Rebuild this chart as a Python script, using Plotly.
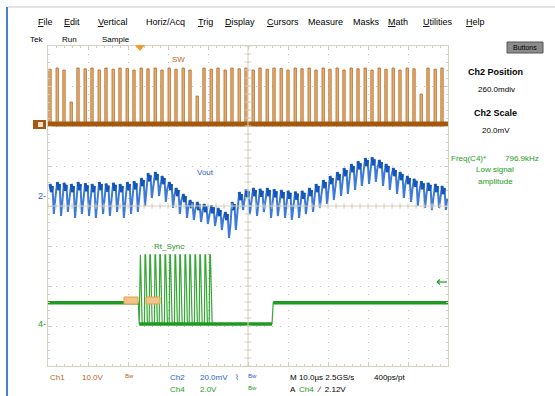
import plotly.graph_objects as go

# oscilloscope screen: x in microseconds (10 us/div), y in divisions
cycle_t = [0.5, 2.3, 4.0, 5.8, 7.5, 9.3, 11.0, 12.8, 14.5, 16.3, 18.0, 19.8, 21.5, 23.3,
           25.0, 26.8, 28.5, 30.3, 32.0, 33.8, 35.5, 37.3, 39.0, 40.8, 42.5, 44.3, 46.0,
           47.8, 49.5, 51.3, 53.0, 54.8, 56.5, 58.3, 60.0, 61.8, 63.5, 65.3, 67.0, 68.8,
           70.5, 72.3, 74.0, 75.8, 77.5, 79.3, 81.0, 82.8, 84.5, 86.3, 88.0, 89.8, 91.5,
           93.3, 95.0, 96.8, 98.5]

# SW (Ch1) pulse tops, divisions
sw_base = 2.05
sw_top = [3.42, 3.45, 3.40, 2.60, 3.45, 3.43, 3.45, 3.40, 3.45, 3.42, 3.45, 3.44, 3.40, 3.45,
          3.43, 3.45, 3.40, 3.45, 3.42, 3.45, 3.40, 2.75, 3.45, 3.42, 3.45, 3.40, 3.45, 3.43,
          3.45, 3.40, 3.45, 3.42, 3.45, 3.44, 3.40, 3.45, 3.43, 3.45, 3.40, 3.45, 3.42, 3.45,
          3.40, 3.45, 3.43, 3.45, 3.40, 3.45, 3.42, 3.45, 3.40, 3.45, 3.43, 2.80, 3.45, 3.42,
          3.45]

# Vout (Ch2) ripple peaks / troughs per switching cycle, divisions
vout_peak = [0.55, 0.60, 0.58, 0.55, 0.60, 0.57, 0.55, 0.60, 0.56, 0.58, 0.55, 0.60, 0.62,
             0.70, 0.82, 0.85, 0.75, 0.60, 0.45, 0.30, 0.15, 0.10, 0.05, 0.02, -0.05, -0.15,
             0.10, 0.35, 0.42, 0.45, 0.43, 0.45, 0.42, 0.40, 0.38, 0.36, 0.38, 0.45, 0.55,
             0.65, 0.75, 0.85, 0.95, 1.05, 1.12, 1.20, 1.22, 1.15, 1.05, 0.95, 0.85, 0.75,
             0.68, 0.62, 0.58, 0.55, 0.50]
vout_trough = [-0.20, -0.25, -0.15, -0.30, -0.20, -0.25, -0.30, -0.20, -0.25, -0.15, -0.30,
               -0.20, -0.15, 0.00, 0.20, 0.25, 0.10, -0.05, -0.20, -0.30, -0.35, -0.40, -0.45,
               -0.50, -0.60, -0.80, -0.60, -0.10, -0.20, -0.25, -0.15, -0.30, -0.25, -0.30,
               -0.35, -0.30, -0.20, -0.15, -0.05, 0.05, 0.15, 0.25, 0.30, 0.40, 0.50, 0.55,
               0.60, 0.50, 0.40, 0.30, 0.20, 0.10, 0.00, -0.05, -0.10, -0.05, -0.10]

# Rt_Sync (Ch4)
sync_base = -2.42
sync_low = -2.95
sync_high = -1.22
sync_pulse_t = [22.8, 24.1, 25.3, 26.6, 27.8, 29.1, 30.3, 31.6, 32.8, 34.1, 35.3, 36.6,
                37.8, 39.1, 40.3]
sync_edges_t = [22.6, 41.2, 56.0]   # leave baseline, end of burst, back to baseline

menu_items = ["File", "Edit", "Vertical", "Horiz/Acq", "Trig", "Display", "Cursors",
              "Measure", "Masks", "Math", "Utilities", "Help"]
menu_x = [36, 62, 96, 144, 196, 223, 265, 306, 351, 386, 421, 464]

ORANGE = "#B8661C"
ORANGE_L = "#E4B27C"
BLUE = "#1F62C6"
GREEN = "#1E9A22"
FONT = "Liberation Sans"

L, R, T, B = 48, 448, 46, 366


def px(x, y):
    return (x - L) / (R - L), (B - y) / (B - T)


fig = go.Figure()

# graticule centre lines with minor ticks
for v in range(0, 101, 2):
    fig.add_shape(type="line", x0=v, x1=v, y0=-0.07, y1=0.07, line=dict(color="#CFCBB8", width=1))
for v in range(-20, 21):
    fig.add_shape(type="line", y0=v / 5, y1=v / 5, x0=49.2, x1=50.8, line=dict(color="#CFCBB8", width=1))
fig.add_shape(type="line", x0=50, x1=50, y0=-4, y1=4, line=dict(color="#D6D2BE", width=1))
fig.add_shape(type="line", x0=0, x1=100, y0=0, y1=0, line=dict(color="#D6D2BE", width=1))

# SW
fig.add_trace(go.Bar(x=cycle_t, y=[t - sw_base for t in sw_top], base=sw_base, width=0.6,
                     marker=dict(color=ORANGE_L, line=dict(color=ORANGE, width=0.8))))
fig.add_trace(go.Scatter(x=[0, 100], y=[sw_base, sw_base], mode="lines",
                         line=dict(color="#A4570F", width=5)))

# Vout
T_sw = 1.75
vx, vy = [], []
for t0, pk, tr in zip(cycle_t, vout_peak, vout_trough):
    vx += [t0, t0 + 0.2 * T_sw, t0 + 0.35 * T_sw, t0 + 0.55 * T_sw, t0 + 0.75 * T_sw]
    vy += [pk, pk - 0.2, pk - 0.05, tr, (pk + tr) / 2]
fig.add_trace(go.Scatter(x=vx, y=vy, mode="lines", line=dict(color="#3E7BD6", width=2)))
fig.add_trace(go.Scatter(x=vx, y=[v if i % 5 < 3 else None for i, v in enumerate(vy)],
                         mode="lines", connectgaps=False, line=dict(color="#1656B8", width=3)))

# Rt_Sync
sx = [0, sync_edges_t[0]]
sy = [sync_base, sync_base]
for t0 in sync_pulse_t:
    sx += [t0, t0 + 0.15, t0 + 0.3, t0 + 0.75]
    sy += [sync_low, sync_high, sync_high, sync_low]
sx += [sync_edges_t[1], sync_edges_t[2], sync_edges_t[2] + 0.3, 100]
sy += [sync_low, sync_low, sync_base, sync_base]
fig.add_trace(go.Scatter(x=sx, y=sy, mode="lines", line=dict(color="#34A834", width=1.2)))
fig.add_trace(go.Scatter(x=[0, sync_edges_t[0]], y=[sync_base] * 2, mode="lines",
                         line=dict(color=GREEN, width=3.5)))
fig.add_trace(go.Scatter(x=[sync_pulse_t[0], sync_edges_t[2]], y=[sync_low] * 2, mode="lines",
                         line=dict(color=GREEN, width=3.5)))
fig.add_trace(go.Scatter(x=[sync_edges_t[2] + 0.3, 100], y=[sync_base] * 2, mode="lines",
                         line=dict(color=GREEN, width=3.5)))

ann = []


def text(x, y, s, color="black", size=9, anchor="left", bold=False):
    xp, yp = px(x, y)
    if bold:
        s = "<b>" + s + "</b>"
    ann.append(dict(x=xp, y=yp, xref="paper", yref="paper", text=s, showarrow=False,
                    xanchor=anchor, yanchor="middle", font=dict(family=FONT, size=size, color=color)))


for m, x in zip(menu_items, menu_x):
    text(x, 22, "<u>" + m[0] + "</u>" + m[1:] if m not in ("Horiz/Acq", "Measure", "Masks") else m)
text(28, 40, "Tek", size=8)
text(60, 40, "Run", size=8)
text(100, 40, "Sample", size=8)

text(170, 60, "SW", ORANGE, 8)
text(195, 172, "Vout", BLUE, 8)
text(152, 246, "Rt_Sync", GREEN, 8)
text(36, 196, "2-", BLUE, 9)
text(36, 324, "4-", GREEN, 9)

text(495, 72, "Ch2 Position", size=9, anchor="center", bold=True)
text(496, 89, "260.0mdiv", size=8, anchor="center")
text(495, 113, "Ch2 Scale", size=9, anchor="center", bold=True)
text(496, 130, "20.0mV", size=8, anchor="center")
text(449, 158, "Freq(C4)*", GREEN, 8)
text(503, 158, "796.9kHz", GREEN, 8)
text(495, 169, "Low signal", GREEN, 8, anchor="center")
text(495, 181, "amplitude", GREEN, 8, anchor="center")
text(525, 47, "Buttons", size=7, anchor="center")

text(48, 377, "Ch1", ORANGE, 8)
text(80, 377, "10.0V", ORANGE, 8)
text(123, 376, "Bw", ORANGE, 6)
text(168, 377, "Ch2", BLUE, 8)
text(198, 377, "20.0mV", BLUE, 8)
text(233, 377, "\u2307", BLUE, 8)
text(246, 376, "Bw", BLUE, 6)
text(168, 389, "Ch4", GREEN, 8)
text(198, 389, "2.0V", GREEN, 8)
text(246, 388, "Bw", GREEN, 6)
text(288, 377, "M 10.0\u00b5s 2.5GS/s", size=8)
text(372, 377, "400ps/pt", size=8)
text(288, 389, "A", size=8)
text(297, 389, "Ch4", GREEN, 8)
text(315, 389, "\u2215  2.12V", size=8)

shapes = []


def box(x0, y0, x1, y1, **kw):
    a0, b0 = px(x0, y0)
    a1, b1 = px(x1, y1)
    shapes.append(dict(type="rect", xref="paper", yref="paper", x0=a0, y0=b0, x1=a1, y1=b1, **kw))


def seg(x0, y0, x1, y1, color, width=1):
    a0, b0 = px(x0, y0)
    a1, b1 = px(x1, y1)
    shapes.append(dict(type="line", xref="paper", yref="paper", x0=a0, y0=b0, x1=a1, y1=b1,
                       line=dict(color=color, width=width)))


# window frame
seg(7, 7, 555, 7, "#C8C8C8", 1)
seg(7, 7, 7, 396, "#4C7FD0", 2)
# Buttons pill
box(507, 42, 543, 53, fillcolor="#8C8C8C", line=dict(color="#555555", width=1))
# Ch1 marker
box(33, 120, 46, 129, fillcolor="#A4570F", line=dict(width=0))
box(38, 122, 43, 127, fillcolor="#F0E0D0", line=dict(width=0))
# cursor tags near Rt_Sync
box(124, 297, 138, 304, fillcolor="#F2C489", line=dict(color="#E0A050", width=1))
box(146, 297, 160, 304, fillcolor="#F2C489", line=dict(color="#E0A050", width=1))
# trigger level arrow
seg(437, 282, 447, 282, GREEN, 1.2)
seg(437, 282, 440, 279.5, GREEN, 1.2)
seg(437, 282, 440, 284.5, GREEN, 1.2)
# trigger position marker
p1, p2, p3 = px(135, 45), px(145, 45), px(140, 51)
shapes.append(dict(type="path", xref="paper", yref="paper",
                   path=f"M {p1[0]},{p1[1]} L {p2[0]},{p2[1]} L {p3[0]},{p3[1]} Z",
                   fillcolor="#F39A2E", line=dict(width=0)))

ax = dict(showline=True, linecolor="#D6D2BE", mirror="allticks", ticks="inside", ticklen=4,
          tickcolor="#CFCBB8", showticklabels=False, zeroline=False, showgrid=True,
          gridcolor="#BDBDBD", griddash="1px,7px", fixedrange=True)
fig.update_layout(
    width=555, height=396, margin=dict(l=L, r=555 - R, t=T, b=396 - B),
    paper_bgcolor="white", plot_bgcolor="white", showlegend=False, barmode="overlay",
    xaxis=dict(range=[0, 100], dtick=10, minor=dict(dtick=2, ticks="inside", ticklen=2,
               tickcolor="#CFCBB8", showgrid=False), **ax),
    yaxis=dict(range=[-4, 4], dtick=1, minor=dict(dtick=0.2, ticks="inside", ticklen=2,
               tickcolor="#CFCBB8", showgrid=False), **ax),
    annotations=ann, shapes=fig.layout.shapes + tuple(shapes),
)

fig.write_html("out.html", config={"displayModeBar": False},
               post_script="document.body.style.margin='0';")
